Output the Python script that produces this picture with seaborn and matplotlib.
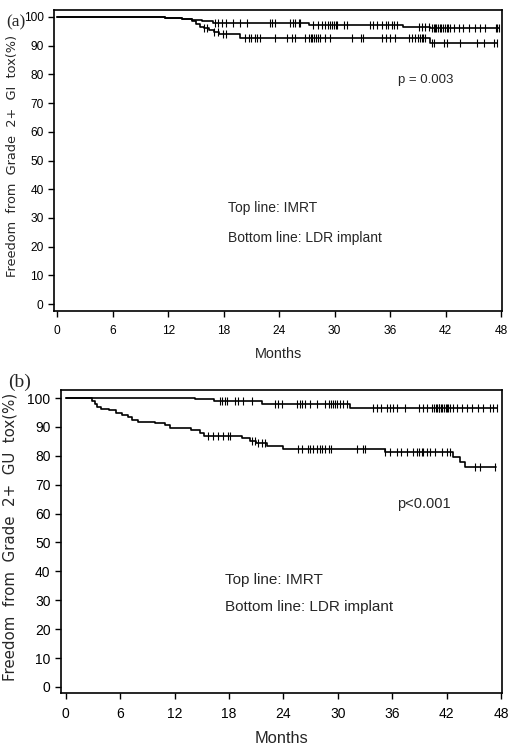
import numpy as np
import pandas as pd
import matplotlib
matplotlib.use("Agg")
import matplotlib.pyplot as plt
import seaborn as sns

# ---------------- data ----------------
months_ticks = [0, 6, 12, 18, 24, 30, 36, 42, 48]
pct_ticks = [0, 10, 20, 30, 40, 50, 60, 70, 80, 90, 100]

# Panel (a): GI toxicity
a_imrt_t = [0, 8.7, 11.7, 13.5, 14.6, 15.6, 16.8, 27.2, 37.4, 40.3]
a_imrt_s = [100, 99.8, 99.6, 99.4, 99.0, 98.5, 97.8, 97.2, 96.4, 96.0]
a_imrt_end = 47.8
a_imrt_c = [17.1, 17.4, 17.8, 18.3, 19.0, 19.8, 20.5, 23.0, 23.2, 23.5, 25.2, 25.5,
            25.7, 26.1, 26.3, 27.7, 28.2, 28.6, 29.0, 29.3, 29.5, 29.7, 29.9, 30.1,
            30.3, 31.0, 31.3, 33.8, 34.1, 34.6, 35.1, 35.5, 35.8, 36.2, 36.4, 36.7,
            39.1, 39.4, 39.8, 40.2, 40.5, 40.7, 40.9, 41.0, 41.2, 41.4, 41.5, 41.7,
            41.9, 42.1, 42.3, 42.5, 42.9, 43.4, 43.9, 44.5, 45.2, 45.7, 46.3, 47.4,
            47.6, 47.8]

a_ldr_t = [0, 8.7, 11.7, 13.5, 14.6, 15.0, 15.4, 15.9, 16.4, 16.9, 17.5, 19.8, 40.3]
a_ldr_s = [100, 99.8, 99.6, 99.4, 98.5, 97.5, 96.6, 96.0, 95.3, 94.6, 94.0, 92.8, 91.0]
a_ldr_end = 47.6
a_ldr_c = [15.9, 16.2, 16.9, 17.4, 17.9, 18.3, 20.3, 20.7, 21.0, 21.4, 21.6, 21.9,
           23.6, 24.8, 25.4, 25.7, 26.8, 27.2, 27.4, 27.6, 27.8, 28.0, 28.2, 28.4,
           29.0, 29.5, 31.9, 32.9, 33.1, 35.1, 35.5, 36.0, 36.5, 38.0, 38.4, 38.7,
           39.0, 39.2, 39.4, 39.6, 39.8, 40.5, 40.7, 41.8, 42.1, 43.6, 45.4, 46.1,
           47.2, 47.6]

# Panel (b): GU toxicity
b_imrt_t = [0, 14.3, 16.3, 21.6, 31.3]
b_imrt_s = [100, 99.6, 99.0, 98.1, 96.6]
b_imrt_end = 47.5
b_imrt_c = [17.0, 17.2, 17.6, 17.8, 18.7, 19.0, 19.6, 20.5, 23.1, 23.4, 23.8, 25.5,
            25.8, 26.0, 26.4, 26.9, 27.7, 28.6, 29.0, 29.3, 29.5, 29.7, 29.9, 30.2,
            30.6, 31.0, 33.9, 34.3, 34.8, 35.4, 35.8, 36.1, 36.5, 37.4, 38.9, 39.4,
            39.8, 40.4, 40.6, 40.8, 40.9, 41.1, 41.2, 41.4, 41.5, 41.7, 41.9, 42.0,
            42.2, 42.4, 42.7, 43.1, 43.7, 44.2, 44.8, 45.5, 46.0, 46.8, 47.1, 47.5]

b_ldr_t = [0, 2.9, 3.2, 3.5, 3.9, 4.8, 5.5, 6.2, 6.9, 7.3, 8.0, 9.8, 11.0, 11.5,
           13.8, 14.8, 15.2, 19.4, 20.3, 21.0, 22.2, 24.0, 35.2, 42.7, 43.5, 44.0]
b_ldr_s = [100, 99.0, 98.0, 97.0, 96.3, 95.8, 95.0, 94.2, 93.3, 92.5, 91.8, 91.2,
           90.6, 89.5, 88.8, 88.0, 87.0, 86.1, 85.0, 84.4, 83.5, 82.4, 81.3, 79.7,
           78.0, 76.0]
b_ldr_end = 47.4
b_ldr_c = [15.7, 16.2, 16.8, 17.3, 17.9, 18.1, 20.5, 20.9, 21.2, 21.6, 22.0, 25.6,
           26.0, 26.7, 26.9, 27.3, 27.7, 28.0, 28.2, 28.6, 29.0, 29.3, 32.1, 32.8,
           33.0, 35.2, 35.8, 36.5, 37.0, 37.6, 38.3, 38.7, 38.9, 39.3, 39.4, 39.8,
           40.2, 40.7, 41.5, 42.0, 42.4, 45.1, 45.7, 47.3]

# ---------------- style ----------------
sns.set_style("ticks")
plt.rcParams["font.family"] = ["Liberation Sans Narrow", "Liberation Sans", "DejaVu Sans"]
plt.rcParams["axes.linewidth"] = 1.2

fig = plt.figure(figsize=(5.16, 7.53), dpi=100)
axA = fig.add_axes([0.1047, 0.587, 0.8682, 0.3997])
axB = fig.add_axes([0.1182, 0.0797, 0.8547, 0.4024])


def draw_km(ax, t, s, tend, cens, msize):
    df = pd.DataFrame({"t": list(t) + [tend], "s": list(s) + [s[-1]]})
    sns.lineplot(data=df, x="t", y="s", ax=ax, color="black", lw=1.2,
                 drawstyle="steps-post", estimator=None, sort=False)
    idx = np.searchsorted(np.array(t), np.array(cens), side="right") - 1
    cy = np.array(s)[idx]
    sns.scatterplot(x=cens, y=cy, ax=ax, marker="|", s=msize, color="black",
                    linewidth=0.8)


draw_km(axA, a_imrt_t, a_imrt_s, a_imrt_end, a_imrt_c, 30)
draw_km(axA, a_ldr_t, a_ldr_s, a_ldr_end, a_ldr_c, 30)
draw_km(axB, b_imrt_t, b_imrt_s, b_imrt_end, b_imrt_c, 40)
draw_km(axB, b_ldr_t, b_ldr_s, b_ldr_end, b_ldr_c, 40)

for ax, xl, yl, fs in [(axA, (-0.35, 48.1), (-2.4, 102.4), 8.6),
                       (axB, (-0.52, 48.1), (-2.1, 102.8), 10)]:
    ax.set_xlim(*xl)
    ax.set_ylim(*yl)
    ax.set_xticks(months_ticks)
    ax.set_yticks(pct_ticks)
    ax.tick_params(direction="out", length=4, width=1, labelsize=fs, colors="black")
    ax.tick_params(axis="x", pad=6)
    for sp in ax.spines.values():
        sp.set_visible(True)
        sp.set_color("black")
    ax.set_xlabel("Months", fontsize=fs + 1.8, labelpad=7)

axA.set_ylabel("Freedom  from  Grade  2+  GI  tox(%)", fontsize=9.3,
               family=["DejaVu Sans"])
axA.yaxis.set_label_coords(-0.078, 0.515)
axB.set_ylabel("Freedom  from  Grade  2+  GU  tox(%)", fontsize=10.8,
               family=["DejaVu Sans"])
axB.yaxis.set_label_coords(-0.098, 0.515)

axA.text(36.8, 78, "p = 0.003", fontsize=9.5, va="center", ha="left")
axA.text(18.5, 33.4, "Top line: IMRT", fontsize=10, va="center", ha="left")
axA.text(18.5, 23.0, "Bottom line: LDR implant", fontsize=10, va="center", ha="left")

axB.text(36.5, 63.3, "p<0.001", fontsize=10.5, va="center", ha="left")
axB.text(17.6, 37.0, "Top line: IMRT", fontsize=11, va="center", ha="left")
axB.text(17.6, 27.7, "Bottom line: LDR implant", fontsize=11, va="center", ha="left")

fig.text(6 / 516, 1 - 22 / 753, "(a)", fontsize=12.5, va="center", ha="left",
         family=["Liberation Serif", "DejaVu Serif"])
fig.text(8 / 516, 1 - 382 / 753, "(b)", fontsize=14, va="center", ha="left",
         family=["Liberation Serif", "DejaVu Serif"])

fig.savefig("out.png", dpi=100)
